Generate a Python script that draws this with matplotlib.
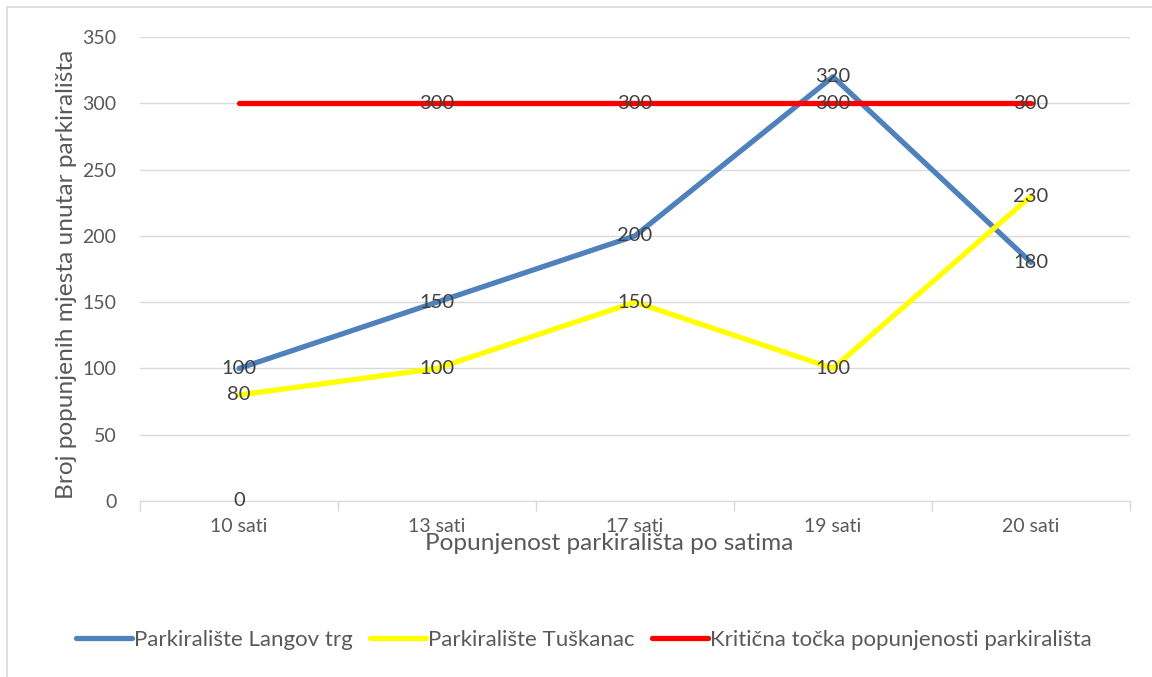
import matplotlib
matplotlib.use("Agg")
import matplotlib.pyplot as plt
from matplotlib.patches import Rectangle
import numpy as np

categories = ["10 sati", "13 sati", "17 sati", "19 sati", "20 sati"]
langov = [100, 150, 200, 320, 180]
tuskanac = [80, 100, 150, 100, 230]
kriticna = [300, 300, 300, 300, 300]
# labels shown for the critical series (the first one sits at the bottom of the chart)
kriticna_labels = [0, 300, 300, 300, 300]

series_names = ["Parkiralište Langov trg", "Parkiralište Tuškanac",
                "Kritična točka popunjenosti parkirališta"]
colors = ["#4F81BD", "#FFFF00", "#FF0000"]

plt.rcParams['font.family'] = ['Lato', 'DejaVu Sans']

W, H = 1152, 677
fig = plt.figure(figsize=(W / 100, H / 100), dpi=100)
# chart border (only left and top edges fall inside the picture)
fig.patches.append(Rectangle((7 / W, -0.1), 1.2, 1 - 7 / H + 0.1, transform=fig.transFigure,
                             fill=False, edgecolor="#D9D9D9", linewidth=1.2))

ax = fig.add_axes([140 / W, (H - 501) / H, 990 / W, 464 / H])
x = np.arange(len(categories))

ax.plot(x, langov, color=colors[0], lw=3.8, solid_capstyle="round", label=series_names[0], zorder=3)
ax.plot(x, tuskanac, color=colors[1], lw=3.8, solid_capstyle="round", label=series_names[1], zorder=3)
ax.plot(x, kriticna, color=colors[2], lw=3.8, solid_capstyle="round", label=series_names[2], zorder=3)

lab = dict(ha="center", va="center", fontsize=14.5, color="#404040", zorder=4)
for i in range(len(x)):
    ax.text(x[i], langov[i], str(langov[i]), **lab)
    ax.text(x[i], tuskanac[i], str(tuskanac[i]), **lab)
    ax.text(x[i], kriticna_labels[i] if i == 0 else kriticna[i], str(kriticna_labels[i]), **lab)

ax.set_xlim(-0.5, len(categories) - 0.5)
ax.set_ylim(0, 350)
ax.set_yticks(range(0, 351, 50))
ax.set_xticks(x)
ax.set_xticklabels(categories)
ax.set_xticks(np.arange(-0.5, len(categories), 1), minor=True)
ax.tick_params(axis="x", which="major", length=0, pad=12, labelsize=14, labelcolor="#595959")
ax.tick_params(axis="x", which="minor", length=7, color="#D9D9D9", width=1)
ax.tick_params(axis="y", length=0, pad=17, labelsize=14, labelcolor="#595959")
ax.grid(axis="y", color="#D9D9D9", lw=1)
ax.set_axisbelow(True)
for s in ["top", "right", "left"]:
    ax.spines[s].set_visible(False)
ax.spines["bottom"].set_color("#D9D9D9")

fig.text(609 / W, 1 - 543 / H, "Popunjenost parkirališta po satima", ha="center", va="center",
         fontsize=17.6, color="#595959")
fig.text(67 / W, 1 - 274 / H, "Broj popunjenih mjesta unutar parkirališta", ha="center", va="center",
         rotation=90, fontsize=17.6, color="#595959")

leg = fig.legend(loc="center left", bbox_to_anchor=(76 / W, 1 - 640 / H), ncol=3, frameon=False,
                 fontsize=16, handlelength=2.5, handletextpad=0.1, columnspacing=0.8,
                 borderpad=0, borderaxespad=0, labelcolor="#595959")

fig.savefig("out.png", dpi=100)
